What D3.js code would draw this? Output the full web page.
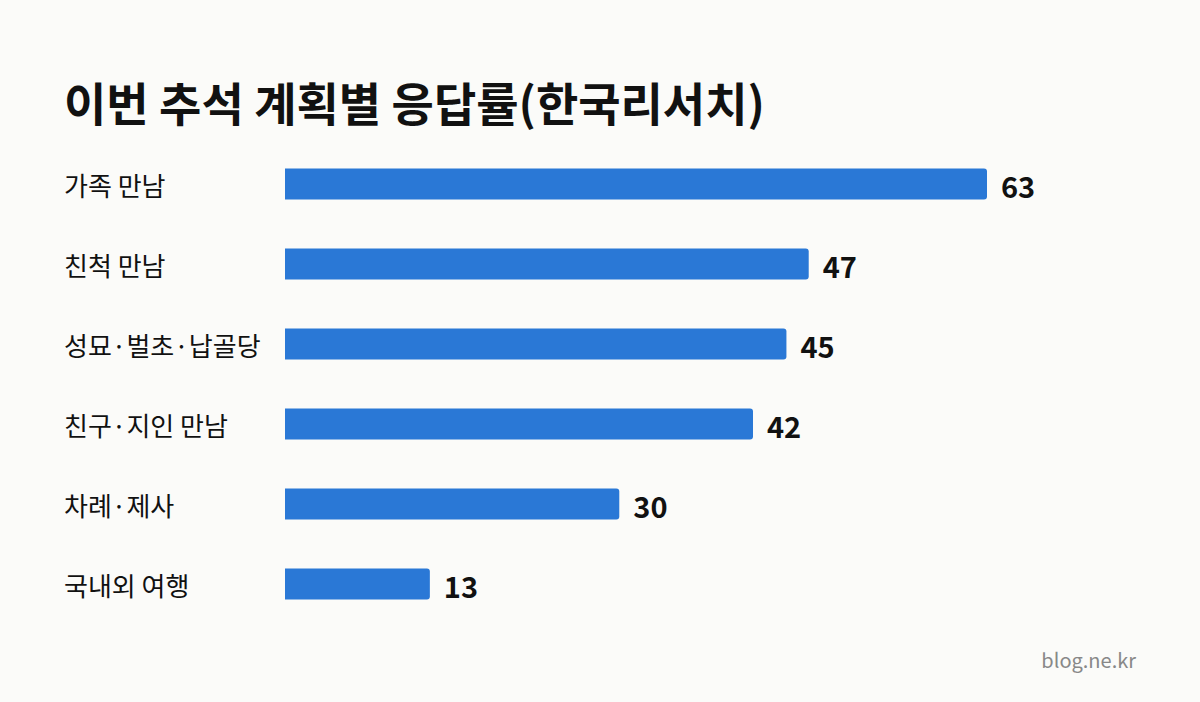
<!DOCTYPE html>
<html>
<head>
<meta charset="utf-8">
<script src="https://cdn.jsdelivr.net/npm/d3@7"></script>
<style>
  html, body { margin: 0; padding: 0; background: #fbfbf9; }
  svg { display: block; font-family: "Noto Sans CJK KR", "Noto Sans", sans-serif; }
</style>
</head>
<body>
<div id="chart"></div>
<script>
var title = "이번 추석 계획별 응답률(한국리서치)";
var categories = ["가족 만남", "친척 만남", "성묘·벌초·납골당", "친구·지인 만남", "차례·제사", "국내외 여행"];
var values = [63, 47, 45, 42, 30, 13];
var source = "blog.ne.kr";

var width = 1200, height = 702;
var color = "#2a78d6";

var svg = d3.select("#chart").append("svg")
	.attr("width", width)
	.attr("height", height);

svg.append("rect")
	.attr("width", width)
	.attr("height", height)
	.attr("fill", "#fbfbf9");

svg.append("text")
	.attr("x", 64)
	.attr("y", 121)
	.attr("font-size", 46)
	.attr("font-weight", 700)
	.attr("fill", "#111")
	.text(title);

var x = d3.scaleLinear()
	.domain([0, 63])
	.range([285, 987]);

var y = d3.scaleBand()
	.domain(categories)
	.range([144, 624])
	.paddingInner(0.61)
	.paddingOuter(0.305);

// bar with square left side and rounded right corners
function barPath(x0, x1, y0, h, r) {
	return "M" + x0 + "," + y0 +
		"H" + (x1 - r) +
		"Q" + x1 + "," + y0 + " " + x1 + "," + (y0 + r) +
		"V" + (y0 + h - r) +
		"Q" + x1 + "," + (y0 + h) + " " + (x1 - r) + "," + (y0 + h) +
		"H" + x0 + "Z";
}

var data = categories.map(function(c, i) { return { cat: c, val: values[i] }; });

var g = svg.append("g");

g.selectAll("path.bar")
	.data(data)
	.enter().append("path")
	.attr("class", "bar")
	.attr("fill", color)
	.attr("d", function(d) { return barPath(x(0), x(d.val), y(d.cat), y.bandwidth(), 3); });

g.selectAll("text.cat")
	.data(data)
	.enter().append("text")
	.attr("class", "cat")
	.attr("x", 64)
	.attr("y", function(d) { return y(d.cat) + y.bandwidth() / 2 + 3; })
	.attr("dy", "0.35em")
	.attr("font-size", 26)
	.attr("fill", "#111")
	.text(function(d) { return d.cat; });

g.selectAll("text.val")
	.data(data)
	.enter().append("text")
	.attr("class", "val")
	.attr("x", function(d) { return x(d.val) + 14; })
	.attr("y", function(d) { return y(d.cat) + y.bandwidth() / 2 + 4; })
	.attr("dy", "0.35em")
	.attr("font-size", 29)
	.attr("font-weight", 700)
	.attr("fill", "#111")
	.text(function(d) { return d.val; });

svg.append("text")
	.attr("x", 1136)
	.attr("y", 668)
	.attr("text-anchor", "end")
	.attr("font-size", 20)
	.attr("fill", "#888")
	.text(source);
</script>
</body>
</html>
